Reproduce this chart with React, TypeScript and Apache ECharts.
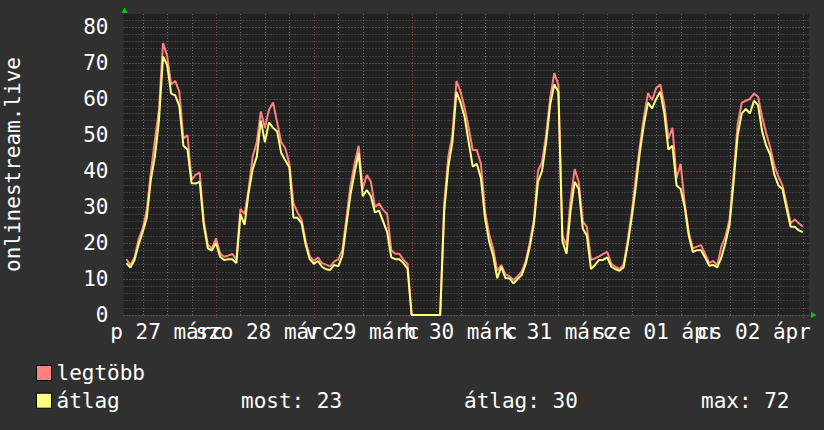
import React, { useEffect, useRef } from 'react';
import * as echarts from 'echarts';

// hours relative to 28 Mar 00:00, one sample per hour
const START_HOUR = -22;
const AXIS_MIN_HOUR = -22.7;
const AXIS_MAX_HOUR = 145.5;
const Y_MIN = 0;
const Y_MAX = 83.6;

const DAY_LABELS = ['p 27 márc', 'szo 28 márc', 'v 29 márc', 'h 30 márc', 'k 31 márc', 'sze 01 ápr', 'cs 02 ápr'];
const LABEL_HOURS = [-12, 12, 36, 60, 84, 108, 132];
const DAY_HOURS = [0, 24, 48, 72, 96, 120, 144];
const QUARTER_DAY_HOURS = [-18, -12, -6, 6, 12, 18, 30, 36, 42, 54, 60, 66, 78, 84, 90, 102, 108, 114, 126, 132, 138];

const MAX_VALUES = [
  15.5, 13.9, 16, 21, 24, 29, 39.5, 48.6, 57, 75.5,
  72, 64, 65, 62, 49, 50, 37.5, 39, 39.5, 26,
  19.5, 18.5, 21.3, 17.1, 16.2, 16.5, 17, 15.3, 29.5, 28,
  35, 44, 48, 56.5, 52, 57, 59, 53.5, 48, 46.3,
  42, 31, 28.5, 26.5, 20.5, 16.3, 15, 16, 14.4, 14,
  13.5, 14.8, 15.5, 18, 27, 36, 42, 47, 35, 38.9,
  37, 30, 31, 29.2, 28, 18, 17, 17, 15.3, 14.2,
  0, 0, 0, 0, 0, 0, 0, 0, 31, 44,
  50, 65, 62, 57.5, 52, 45.8, 45.8, 42, 29, 22.5,
  18.5, 12.3, 13.9, 11.3, 10.8, 9.7, 10.8, 12, 15, 20.2,
  26.4, 40, 42.5, 50, 60.3, 67.2, 64, 22, 19.5, 32,
  40.5, 37, 26, 24.5, 15.3, 15.7, 16.3, 17, 17.5, 14.2,
  13.4, 12.8, 14, 20.5, 28.5, 38, 47, 55, 61.6, 59.7,
  63, 64, 58.5, 49, 52, 38, 42, 31, 23, 18.5,
  19, 19.4, 17, 14.5, 15, 13.9, 19, 21.8, 26.5, 39,
  53, 59, 59.5, 60, 61.5, 60.6, 55, 50.5, 46.5, 41.5,
  38.4, 36, 31, 25.5, 26.5, 25.5, 24.5,
];

const AVG_VALUES = [
  14.4, 13.2, 15.3, 19.5, 23, 27, 37.5, 44, 54, 71.8,
  69.5, 61.5, 61, 58, 47, 46, 36.6, 36.5, 37, 25,
  18.5, 17.9, 20, 16.2, 15.3, 15.5, 15.5, 14.4, 28, 25,
  34, 40.5, 44, 54, 48, 53.5, 52, 51, 45, 43,
  41, 27, 27, 25.5, 19.5, 15.5, 14.2, 15, 13.4, 12.7,
  12.5, 13.9, 13.5, 16.5, 25, 33.5, 39.5, 45, 33, 34.7,
  33, 28.5, 29, 26, 23, 16, 15.5, 15.5, 14.4, 12.8,
  0, 0, 0, 0, 0, 0, 0, 0, 29, 41.2,
  48, 62, 59, 55, 48, 41.2, 42, 38, 27, 20.5,
  16.5, 10.2, 13.4, 10.3, 10.2, 8.8, 10, 11.1, 14.2, 19,
  25.3, 37, 40, 48, 58.5, 64, 62, 20.5, 17, 29,
  37, 35, 24, 22, 12.8, 13.9, 15.3, 15.3, 16, 13.4,
  12.7, 12.3, 13.2, 19.5, 27, 35.6, 45.3, 53, 59, 57.4,
  60, 62, 56, 46, 47, 36, 35, 30, 22, 17.5,
  18, 18, 16, 13.7, 13.9, 13.2, 16, 20, 25, 37,
  50, 56, 57.2, 56, 59.5, 58.3, 51, 47, 44.5, 39,
  36, 35, 29.5, 24.5, 24.5, 23.5, 23,
];

const SERIES_NAMES = ['legtöbb', 'átlag'];
const STAT_NOW = 23;
const STAT_AVG = 30;
const STAT_MAX = 72;
const Y_TITLE = 'onlinestream.live';

const FONT = '"DejaVu Sans Mono", monospace';
const MAJOR_GRID = 'rgba(200,70,70,0.6)';
const MINOR_GRID = 'rgba(150,150,150,0.5)';
const V_MAJOR_GRID = '#8a4040';
const V_MINOR_GRID = '#6a6a6a';

export default function App() {
  const ref = useRef<HTMLDivElement>(null);
  useEffect(() => {
    document.body.style.margin = '0';
    if (!ref.current) return;
    const chart = echarts.init(ref.current, null, { renderer: 'svg' });
    const pairs = (vals: number[]) => vals.map((v, i) => [START_HOUR + i, v]);
    const labelAxis = (hours: number[]) => ({
      type: 'value', min: AXIS_MIN_HOUR, max: AXIS_MAX_HOUR, position: 'bottom',
      axisLine: { show: false, onZero: false },
      axisTick: { show: false },
      splitLine: { show: false },
      axisLabel: {
        customValues: hours, showMinLabel: true, showMaxLabel: true, hideOverlap: false,
        color: '#ffffff', fontFamily: FONT, fontSize: 21, margin: 6,
        formatter: (v: number) => {
          const idx = LABEL_HOURS.findIndex((h) => Math.abs(h - v) < 0.01);
          return idx >= 0 ? DAY_LABELS[idx] : '';
        },
      },
    });
    const gridLineData = [
      ...QUARTER_DAY_HOURS.map((h) => ({ value: [h, 0] })),
      ...DAY_HOURS.map((h) => ({ value: [h, 1] })),
    ];
    chart.setOption({
      animation: false,
      backgroundColor: '#303030',
      grid: {
        left: 123.5, right: 15, top: 14, bottom: 115,
        show: true, backgroundColor: '#222222', borderWidth: 0,
        outerBoundsMode: 'none',
      },
      legend: {
        orient: 'vertical', left: 31, top: 357.5,
        itemWidth: 15, itemHeight: 15, itemGap: 6.7, icon: 'rect',
        itemStyle: { borderColor: '#000', borderWidth: 1 },
        textStyle: { color: '#ffffff', fontFamily: FONT, fontSize: 21, lineHeight: 21 },
        data: SERIES_NAMES,
      },
      xAxis: [
        labelAxis(LABEL_HOURS.filter((_, i) => i % 2 === 0)),
        labelAxis(LABEL_HOURS.filter((_, i) => i % 2 === 1)),
      ],
      yAxis: [
        {
          type: 'value', min: Y_MIN, max: Y_MAX, interval: 2,
          axisLine: { show: false }, axisTick: { show: false }, axisLabel: { show: false },
          splitLine: { show: true, showMaxLine: false, lineStyle: { color: MINOR_GRID, type: [1, 2], width: 1 } },
        },
        {
          type: 'value', min: Y_MIN, max: Y_MAX, interval: 10, position: 'left',
          axisLine: { show: false }, axisTick: { show: false },
          name: Y_TITLE, nameLocation: 'middle', nameRotate: 90, nameGap: 100,
          nameTextStyle: { color: '#ffffff', fontFamily: FONT, fontSize: 21 },
          axisLabel: {
            color: '#ffffff', fontFamily: FONT, fontSize: 21, margin: 15, showMaxLabel: false,
            formatter: (v: number) => (v % 10 === 0 ? String(v) : ''),
          },
          splitLine: { show: true, showMaxLine: false, lineStyle: { color: MAJOR_GRID, type: [1, 2], width: 1 } },
        },
      ],
      series: [
        {
          name: 'grid-lines', type: 'custom', xAxisIndex: 0, yAxisIndex: 1,
          silent: true, z: 2, clip: false,
          dimensions: ['hour', 'kind'],
          encode: { x: 'hour', y: 'kind' },
          data: gridLineData,
          renderItem: (_params: any, api: any) => {
            const h = api.value(0);
            const major = api.value(1) === 1;
            const bottom = api.coord([h, Y_MIN]);
            const top = api.coord([h, Y_MAX]);
            const x = Math.round(bottom[0]) + 0.5;
            return {
              type: 'line',
              shape: { x1: x, y1: bottom[1] + (major ? 3 : 0), x2: x, y2: top[1] },
              style: { stroke: major ? V_MAJOR_GRID : V_MINOR_GRID, lineWidth: 1, lineDash: [1, 2] },
            };
          },
        },
        {
          name: SERIES_NAMES[0], type: 'line', xAxisIndex: 0, yAxisIndex: 1,
          data: pairs(MAX_VALUES), showSymbol: false, symbol: 'none',
          lineStyle: { color: '#ff8080', width: 2 }, itemStyle: { color: '#ff8080' },
          z: 3,
        },
        {
          name: SERIES_NAMES[1], type: 'line', xAxisIndex: 0, yAxisIndex: 1,
          data: pairs(AVG_VALUES), showSymbol: false, symbol: 'none',
          lineStyle: { color: '#ffff80', width: 2 }, itemStyle: { color: '#ffff80' },
          z: 4,
        },
      ],
      graphic: [
        { type: 'polygon', shape: { points: [[121.5, 13], [127.5, 13], [124.5, 7.5]] }, style: { fill: '#00cc00' } },
        { type: 'polygon', shape: { points: [[811, 312], [811, 318], [816.5, 315]] }, style: { fill: '#00cc00' } },
        { type: 'text', left: 241, top: 390, style: { text: `most: ${STAT_NOW}`, fill: '#ffffff', font: `21px ${FONT}` } },
        { type: 'text', left: 464, top: 390, style: { text: `átlag: ${STAT_AVG}`, fill: '#ffffff', font: `21px ${FONT}` } },
        { type: 'text', left: 701, top: 390, style: { text: `max: ${STAT_MAX}`, fill: '#ffffff', font: `21px ${FONT}` } },
      ],
    });
    return () => chart.dispose();
  }, []);
  return <div ref={ref} style={{ width: 824, height: 430 }} />;
}
